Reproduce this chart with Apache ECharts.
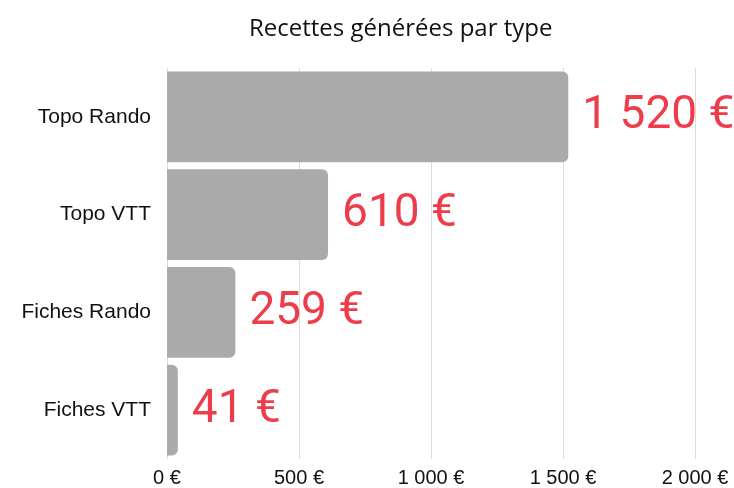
<!DOCTYPE html>
<html>
<head>
<meta charset="utf-8">
<script src="https://cdn.jsdelivr.net/npm/echarts@6/dist/echarts.min.js"></script>
<style>
	html, body { margin: 0; padding: 0; background: #fff; }
	#main { width: 734px; height: 488px; }
</style>
</head>
<body>
<div id="main"></div>
<script>
var categories = ['Topo Rando', 'Topo VTT', 'Fiches Rando', 'Fiches VTT'];
var recettes = [1520, 610, 259, 41];
var xTicks = [0, 500, 1000, 1500, 2000];

// 1520 -> "1 520"
function euros(v) {
	return String(v).replace(/\B(?=(\d{3})+(?!\d))/g, ' ') + ' €';
}

var dom = document.getElementById('main');
var myChart = echarts.init(dom);

var option = {
	animation : false,
	title : {
		text : 'Recettes générées par type',
		left : 244,
		top : 12,
		textStyle : {
			fontFamily : 'Open Sans',
			fontWeight : 'normal',
			fontSize : 24,
			color : '#111'
		}
	},
	grid : {
		left : 167,
		right : 39,
		top : 68,
		bottom : 28
	},
	xAxis : {
		type : 'value',
		min : xTicks[0],
		max : xTicks[xTicks.length - 1],
		interval : 500,
		axisLine : { show : false },
		axisTick : { show : false },
		splitLine : { lineStyle : { color : '#dcdcdc' } },
		axisLabel : {
			margin : 9,
			fontFamily : 'Liberation Sans',
			fontSize : 20,
			color : '#111',
			formatter : euros
		}
	},
	yAxis : {
		type : 'category',
		inverse : true,
		data : categories,
		axisLine : { show : false },
		axisTick : { show : false },
		axisLabel : {
			margin : 16,
			fontFamily : 'Liberation Sans',
			fontSize : 21,
			color : '#111'
		}
	},
	series : [ {
		type : 'bar',
		data : recettes,
		barCategoryGap : '7%',
		itemStyle : {
			color : '#aaaaaa',
			borderRadius : [0, 6, 6, 0]
		},
		label : {
			show : true,
			position : 'right',
			distance : 14,
			formatter : function(p) { return euros(p.value); },
			fontFamily : 'Roboto',
			fontSize : 46,
			color : '#ee3d4a'
		}
	} ]
};

myChart.setOption(option, true);
</script>
</body>
</html>
